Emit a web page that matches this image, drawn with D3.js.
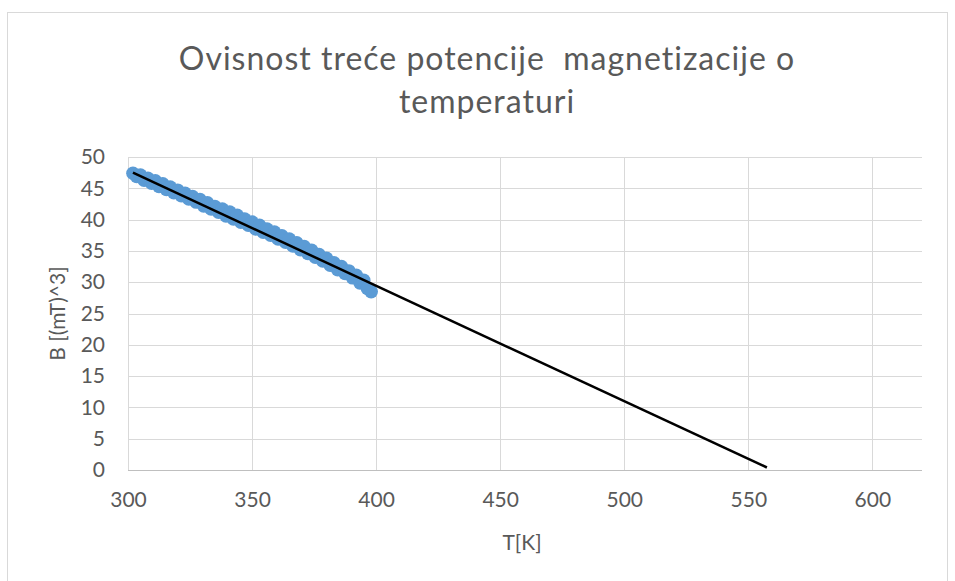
<!DOCTYPE html>
<html>
<head>
<meta charset="utf-8">
<script src="https://cdn.jsdelivr.net/npm/d3@7"></script>
<style>
  body { margin: 0; background: #fff; }
  text { font-family: Lato, "Open Sans", sans-serif; fill: #595959; }
</style>
</head>
<body>
<div id="chart"></div>
<script>
// measured temperatures [K]
var temps = [302, 303.5, 305, 306.5, 308, 309.5, 311, 312.5, 314, 315.5,
  317, 318.5, 320, 321.5, 323, 324.5, 326, 327.5, 329, 330.5,
  332, 333.5, 335, 336.5, 338, 339.5, 341, 342.5, 344, 345.5,
  347, 348.5, 350, 351.5, 353, 354.5, 356, 357.5, 359, 360.5,
  362, 363.5, 365, 366.5, 368, 369.5, 371, 372.5, 374, 375.5,
  377, 378.5, 380, 381.5, 383, 384.5, 386, 387.5, 389, 390.5,
  392, 393.5, 395, 396.5, 398];

// B^3 values [(mT)^3]
var bCubed = [47.4, 46.9, 47.1, 46.3, 46.6, 45.8, 46.2, 45.3, 45.7, 44.8,
  45.2, 44.3, 44.7, 43.8, 44.2, 43.3, 43.7, 42.8, 43.2, 42.2,
  42.7, 41.7, 42.1, 41.2, 41.7, 40.6, 41.2, 40.1, 40.7, 39.6,
  40.1, 39.1, 39.6, 38.5, 39.1, 38.0, 38.5, 37.5, 38.0, 36.9,
  37.4, 36.4, 36.9, 35.8, 36.3, 35.2, 35.7, 34.6, 35.1, 34.0,
  34.4, 33.4, 33.8, 32.7, 33.1, 32.0, 32.5, 31.4, 31.8, 30.7,
  31.1, 29.9, 30.3, 29.0, 28.5];

// linear trendline, extended forward to B ~ 0
var trendT = [302, 557.5];
var trendB = [47.5, 0.4];

var xTicks = [300, 350, 400, 450, 500, 550, 600];
var yTicks = [0, 5, 10, 15, 20, 25, 30, 35, 40, 45, 50];

var titleLines = ["Ovisnost treće potencije  magnetizacije o", "temperaturi"];

var width = 955, height = 581,
  plot = {left: 128, right: 922, top: 157, bottom: 470};

var x = d3.scaleLinear().domain([300, 620]).range([plot.left, plot.right]);
var y = d3.scaleLinear().domain([0, 50]).range([plot.bottom, plot.top]);

var svg = d3.select("#chart").append("svg")
  .attr("width", width)
  .attr("height", height);

// chart area border
svg.append("rect")
  .attr("x", 7.5).attr("y", 12.5)
  .attr("width", 940).attr("height", 620)
  .attr("fill", "none")
  .attr("stroke", "#d9d9d9");

// gridlines
svg.append("g")
  .selectAll("line")
  .data(yTicks.filter(function(d) { return d > 0; }))
  .enter().append("line")
  .attr("x1", plot.left).attr("x2", plot.right)
  .attr("y1", function(d) { return Math.round(y(d)) + 0.5; })
  .attr("y2", function(d) { return Math.round(y(d)) + 0.5; })
  .attr("stroke", "#d9d9d9");

svg.append("g")
  .selectAll("line")
  .data(xTicks)
  .enter().append("line")
  .attr("y1", plot.top).attr("y2", plot.bottom)
  .attr("x1", function(d) { return Math.round(x(d)) + 0.5; })
  .attr("x2", function(d) { return Math.round(x(d)) + 0.5; })
  .attr("stroke", "#d9d9d9");

// x axis
var xAxis = svg.append("g")
  .attr("transform", "translate(0," + (Math.round(y(0)) + 0.5) + ")")
  .call(d3.axisBottom(x).tickValues(xTicks).tickSize(0).tickPadding(22));
xAxis.select(".domain").attr("stroke", "#bfbfbf").attr("d", "M" + plot.left + ",0H" + plot.right);
xAxis.selectAll("text").style("font-size", "21px").attr("fill", "#595959");

// y axis
var yAxis = svg.append("g")
  .attr("transform", "translate(" + plot.left + ",0)")
  .call(d3.axisLeft(y).tickValues(yTicks).tickSize(0).tickPadding(23));
yAxis.select(".domain").remove();
yAxis.selectAll("text").style("font-size", "21px").attr("fill", "#595959");

// data points
svg.append("g")
  .selectAll("circle")
  .data(temps.map(function(t, i) { return {T: t, B: bCubed[i]}; }))
  .enter().append("circle")
  .attr("cx", function(d) { return x(d.T); })
  .attr("cy", function(d) { return y(d.B); })
  .attr("r", 6.8)
  .attr("fill", "#5b9bd5");

// trendline
svg.append("path")
  .datum(trendT.map(function(t, i) { return {T: t, B: trendB[i]}; }))
  .attr("d", d3.line().x(function(d) { return x(d.T); }).y(function(d) { return y(d.B); }))
  .attr("fill", "none")
  .attr("stroke", "#000")
  .attr("stroke-width", 2.5);

// title
svg.append("text")
  .attr("text-anchor", "middle")
  .attr("xml:space", "preserve")
  .style("white-space", "pre")
  .style("font-size", "32px")
  .style("letter-spacing", "1px")
  .selectAll("tspan")
  .data(titleLines)
  .enter().append("tspan")
  .attr("x", 487)
  .attr("y", function(d, i) { return 70 + i * 43; })
  .text(function(d) { return d; });

// axis titles
svg.append("text")
  .attr("x", 522).attr("y", 550)
  .attr("text-anchor", "middle")
  .style("font-size", "21px")
  .text("T[K]");

svg.append("text")
  .attr("transform", "translate(65," + ((plot.top + plot.bottom) / 2) + ") rotate(-90)")
  .attr("text-anchor", "middle")
  .style("font-size", "21px")
  .text("B [(mT)^3]");
</script>
</body>
</html>
